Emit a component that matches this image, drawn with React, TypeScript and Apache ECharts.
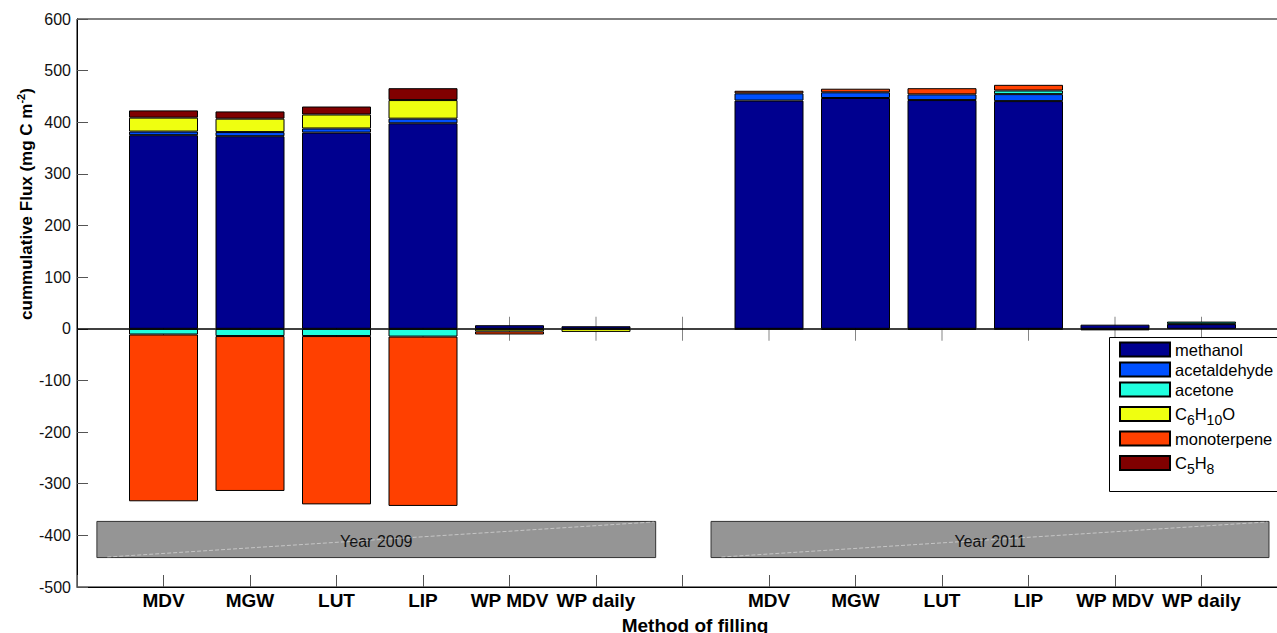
import React, { useEffect, useRef } from "react";
import * as echarts from "echarts";

// ---- data ----
const methods = ["MDV", "MGW", "LUT", "LIP", "WP MDV", "WP daily"];
const years = ["Year 2009", "Year 2011"];
const species = ["methanol", "acetaldehyde", "acetone", "C6H10O", "monoterpene", "C5H8"];
const speciesColors = ["#00008F", "#0050FF", "#20FFDF", "#EFFF10", "#FF4000", "#800000"];
// first six values: 2009 (methods order), next six: 2011
const methanol = [375, 373, 380, 398, 7, 5, 442, 447, 443, 441, 8, 9];
const acetaldehyde = [7, 8, 8, 9, 0, 0, 14, 11, 11, 13.5, 0, 1];
const acetone = [-11, -14, -14, -15, 0, 0, 0, -2, -2, 7, 0, 4];
const c6h10o = [27, 26, 27, 36, -5, -6, 0, 0, 0, 0, 0, 0];
const monoterpene = [-323, -300, -326, -328, -6, 0, 5, 7, 12, 11, -3, 0];
const c5h8 = [14, 14, 15.5, 23, 0, 0, -1, 0, 0, -1, 0, 0];
const yMin = -500;
const yMax = 600;
const yStep = 100;

const seriesValues = [methanol, acetaldehyde, acetone, c6h10o, monoterpene, c5h8];

// slot labels on the x axis: empty edge, 2009 methods, gap, 2011 methods, empty edge
const slotLabels = ["", ...methods, "", ...methods, ""];
const slotKeys = slotLabels.map((_, i) => String(i));
const barSlots = [
  ...methods.map((_, i) => i + 1),
  ...methods.map((_, i) => i + methods.length + 2),
];
const yearSpans = [
  [0.23, 6.69],
  [7.33, 13.78],
];
const yearBand = [-373, -443];

const FONT = "'Liberation Sans', Arial, Helvetica, sans-serif";

export default function App() {
  const ref = useRef<HTMLDivElement>(null);
  useEffect(() => {
    if (!ref.current) return;
    const chart = echarts.init(ref.current, null, { renderer: "svg" });

    const barSeries = species.map((name, k) => ({
      name,
      type: "bar",
      stack: "total",
      xAxisIndex: 0,
      barWidth: 69,
      z: 3,
      itemStyle: { color: speciesColors[k], borderColor: "#000", borderWidth: 1 },
      emphasis: { disabled: true },
      data: slotKeys.map((_, s) => {
        const i = barSlots.indexOf(s);
        if (i < 0) return null;
        const v = seriesValues[k][i];
        return v === 0 ? null : v;
      }),
    }));

    const tickSeries = {
      name: "_ticks",
      type: "scatter",
      xAxisIndex: 1,
      silent: true,
      z: 1,
      symbol: "rect",
      symbolSize: [1, 24],
      itemStyle: { color: "#666" },
      data: slotKeys.map((_, i) => [i, 0]).filter((d) => d[0] > 0 && d[0] < slotKeys.length - 1),
      markLine: {
        silent: true,
        symbol: "none",
        label: { show: false },
        lineStyle: { color: "#000", width: 1.5, type: "solid" },
        data: [{ yAxis: 0 }],
      },
      markArea: {
        silent: true,
        itemStyle: { color: "#959595", borderColor: "#333", borderWidth: 1 },
        label: {
          show: true,
          position: "inside",
          color: "#111",
          fontSize: 16,
          fontFamily: FONT,
          offset: [0, 2],
        },
        data: years.map((y, i) => [
          { name: y, coord: [yearSpans[i][0], yearBand[0]] },
          { coord: [yearSpans[i][1], yearBand[1]] },
        ]),
      },
    };

    const diagSeries = {
      name: "_diag",
      type: "line",
      xAxisIndex: 1,
      silent: true,
      z: 2,
      data: [],
      markLine: {
        silent: true,
        symbol: "none",
        label: { show: false },
        lineStyle: { color: "rgba(255,255,255,0.45)", width: 1, type: "dashed" },
        data: yearSpans.map((s) => [
          { coord: [s[0] + 0.12, yearBand[1] + 1] },
          { coord: [s[1] - 0.02, yearBand[0] - 1] },
        ]),
      },
    };

    chart.setOption({
      animation: false,
      backgroundColor: "#fff",
      grid: {
        left: 77,
        top: 19,
        width: 1211,
        height: 568,
        show: true,
        borderColor: "#000",
        borderWidth: 1,
        backgroundColor: "transparent",
        outerBoundsMode: "none",
        containLabel: false,
      },
      xAxis: [
        {
          type: "category",
          data: slotKeys,
          boundaryGap: false,
          axisLine: { onZero: false, lineStyle: { color: "#000", width: 1 } },
          axisTick: { inside: true, length: 12, interval: 0, lineStyle: { color: "#555" } },
          splitLine: { show: false },
          axisLabel: {
            interval: 0,
            margin: 4,
            fontSize: 19,
            fontWeight: "bold",
            fontFamily: FONT,
            color: "#000",
            formatter: (v: string) => slotLabels[Number(v)] ?? "",
          },
        },
        {
          type: "value",
          min: 0,
          max: slotKeys.length - 1,
          show: false,
          axisLine: { onZero: false },
          splitLine: { show: false },
        },
      ],
      yAxis: {
        type: "value",
        min: yMin,
        max: yMax,
        interval: yStep,
        axisLine: { show: true, lineStyle: { color: "#000", width: 1 } },
        axisTick: { show: true, inside: true, length: 11, lineStyle: { color: "#555" } },
        splitLine: { show: false },
        axisLabel: { margin: 6, fontSize: 16, fontFamily: FONT, color: "#111" },
      },
      legend: {
        data: species,
        orient: "vertical",
        left: 1109,
        top: 337,
        itemWidth: 50,
        itemHeight: 14,
        itemGap: 3,
        icon: "rect",
        padding: [4, 0, 20, 10],
        borderWidth: 0,
        backgroundColor: "transparent",
        selectedMode: false,
        z: 10,
        formatter: (name: string) => {
          const m = name.match(/^C(\d+)H(\d+)(O?)$/);
          if (m) return `{n|C}{s|${m[1]}}{n|H}{s|${m[2]}}` + (m[3] ? "{n|O}" : "");
          return `{n|${name}}`;
        },
        textStyle: {
          rich: {
            n: { fontSize: 16.5, lineHeight: 16, fontFamily: FONT, color: "#000" },
            s: { fontSize: 14, lineHeight: 14, padding: [12, 0, 0, 0], fontFamily: FONT, color: "#000" },
          },
        },
      },
      graphic: [
        {
          type: "rect",
          z: 5,
          silent: true,
          shape: { x: 1109.5, y: 337.5, width: 220, height: 154 },
          style: { fill: "#fff", stroke: "#000", lineWidth: 1 },
        },
        {
          type: "text",
          x: 26,
          y: 204,
          rotation: Math.PI / 2,
          style: {
            text: "{b|cummulative Flux (mg C m}{p|-2}{b|)}",
            align: "center",
            verticalAlign: "middle",
            rich: {
              b: { fontSize: 17, fontWeight: "bold", fontFamily: FONT, fill: "#000" },
              p: { fontSize: 11, fontWeight: "bold", fontFamily: FONT, padding: [0, 0, 10, 0], fill: "#000" },
            },
          },
        },
        {
          type: "text",
          x: 695,
          y: 625,
          style: {
            text: "Method of filling",
            align: "center",
            verticalAlign: "middle",
            fontSize: 19,
            fontWeight: "bold",
            fontFamily: FONT,
            fill: "#000",
          },
        },
      ],
      series: [tickSeries, diagSeries, ...barSeries],
    });

    return () => chart.dispose();
  }, []);

  return (
    <div
      ref={ref}
      style={{ position: "fixed", left: 0, top: 0, width: 1277, height: 633, background: "#fff" }}
    />
  );
}
